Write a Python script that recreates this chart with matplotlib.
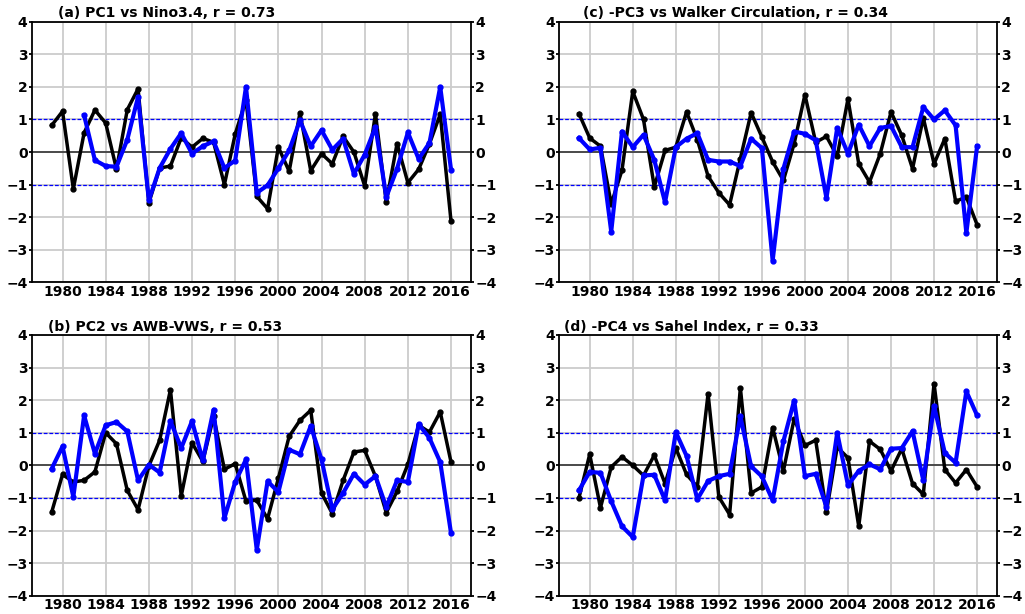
import numpy as np
import matplotlib.pyplot as plt

years = np.arange(1979, 2017)

# (a) PC1 vs Nino3.4
pc1 = [0.82, 1.25, -1.13, 0.59, 1.29, 0.89, -0.53, 1.3, 1.94, -1.56,
       -0.49, -0.43, 0.44, 0.15, 0.42, 0.3, -1.0, 0.55, 1.6, -1.36,
       -1.74, 0.15, -0.59, 1.2, -0.57, -0.05, -0.36, 0.48, 0.0, -1.04,
       1.18, -1.54, 0.26, -0.94, -0.53, 0.25, 1.16, -2.12]
nino = [np.nan, np.nan, np.nan, 1.13, -0.25, -0.43, -0.45, 0.38, 1.69, -1.48,
        -0.49, 0.1, 0.58, -0.05, 0.18, 0.33, -0.49, -0.26, 2.0, -1.25,
        -1.02, -0.5, 0.05, 0.97, 0.18, 0.67, 0.07, 0.41, -0.67, -0.08,
        0.77, -1.38, -0.51, 0.6, -0.21, 0.28, 2.0, -0.54]

# (b) PC2 vs AWB-VWS
pc2 = [-1.43, -0.28, -0.51, -0.46, -0.2, 1.0, 0.66, -0.77, -1.36, -0.02,
       0.77, 2.32, -0.94, 0.69, 0.12, 1.5, -0.12, 0.05, -1.1, -1.07,
       -1.64, -0.4, 0.89, 1.38, 1.69, -0.85, -1.48, -0.46, 0.41, 0.46,
       -0.34, -1.45, -0.8, 0.03, 1.23, 1.02, 1.64, 0.1]
awb = [-0.1, 0.58, -0.97, 1.53, 0.36, 1.23, 1.33, 1.04, -0.46, 0.02,
       -0.22, 1.36, 0.53, 1.36, 0.15, 1.71, -1.62, -0.51, 0.18, -2.59,
       -0.49, -0.82, 0.48, 0.34, 1.21, 0.18, -1.35, -0.85, -0.26, -0.59,
       -0.33, -1.28, -0.46, -0.51, 1.26, 0.84, 0.1, -2.08]

# (c) -PC3 vs Walker Circulation
pc3 = [1.18, 0.43, 0.18, -1.59, -0.56, 1.86, 1.0, -1.07, 0.05, 0.15,
       1.23, 0.38, -0.74, -1.25, -1.62, -0.2, 1.21, 0.46, -0.3, -0.87,
       0.26, 1.76, 0.3, 0.48, -0.13, 1.63, -0.36, -0.92, -0.05, 1.23,
       0.51, -0.51, 1.05, -0.36, 0.41, -1.51, -1.38, -2.23]
walker = [0.43, 0.08, 0.13, -2.44, 0.63, 0.15, 0.53, -0.24, -1.54, 0.15,
          0.41, 0.58, -0.24, -0.29, -0.29, -0.43, 0.41, 0.12, -3.33, -0.51,
          0.63, 0.56, 0.36, -1.41, 0.74, -0.05, 0.84, 0.18, 0.74, 0.8,
          0.15, 0.15, 1.38, 1.0, 1.28, 0.82, -2.48, 0.18]

# (d) -PC4 vs Sahel Index
pc4 = [-1.0, 0.34, -1.3, -0.05, 0.26, 0.0, -0.31, 0.31, -0.56, 0.53,
       -0.28, -0.66, 2.2, -0.97, -1.51, 2.38, -0.85, -0.66, 1.16, -0.17,
       1.43, 0.61, 0.77, -1.43, 0.56, 0.23, -1.87, 0.74, 0.49, -0.17,
       0.51, -0.56, -0.89, 2.51, -0.13, -0.54, -0.13, -0.66]
sahel = [-0.77, -0.2, -0.23, -1.1, -1.87, -2.2, -0.31, -0.29, -1.07, 1.02,
         0.29, -1.04, -0.48, -0.33, -0.26, 1.5, -0.03, -0.34, -1.07, 0.74,
         1.99, -0.33, -0.26, -1.28, 1.0, -0.61, -0.17, 0.03, -0.12, 0.51,
         0.53, 1.05, -0.46, 1.82, 0.38, 0.08, 2.27, 1.53]

titles = ['(a) PC1 vs Nino3.4, r = 0.73', '(b) PC2 vs AWB-VWS, r = 0.53',
          '(c) -PC3 vs Walker Circulation, r = 0.34', '(d) -PC4 vs Sahel Index, r = 0.33']
title_x = [0.059, 0.037, 0.055, 0.011]

fig = plt.figure(figsize=(10.25, 6.14), dpi=100)
boxes = [[0.031, 0.540, 0.4285, 0.4247], [0.031, 0.0298, 0.4285, 0.4246],
         [0.5454, 0.540, 0.4273, 0.4247], [0.5454, 0.0298, 0.4273, 0.4246]]
series = [(pc1, nino), (pc2, awb), (pc3, walker), (pc4, sahel)]

for box, (pc, idx), title, tx in zip(boxes, series, titles, title_x):
    ax = fig.add_axes(box)
    ax.set_axisbelow(True)
    ax.grid(color='#cccccc', lw=1.3)
    ax.axhline(0, color='#404040', lw=1.3, zorder=1.5)
    ax.axhline(1, color='blue', lw=0.9, ls=(0, (3, 1.5)), zorder=1.6)
    ax.axhline(-1, color='blue', lw=0.9, ls=(0, (3, 1.5)), zorder=1.6)
    ax.plot(years, pc, color='black', lw=2.5, marker='o', ms=3.5, zorder=3)
    ax.plot(years, idx, color='blue', lw=3, marker='o', ms=3.5, zorder=4)
    ax.set_ylim(-4, 4)
    ax.set_yticks(range(-4, 5))
    ax.set_xticks(range(1980, 2017, 4))
    ax.tick_params(axis='y', labelsize=10, width=1.3, length=2, pad=1,
                   right=True, labelright=True)
    ax.tick_params(axis='x', labelsize=10, length=0, pad=2)
    for lab in ax.get_xticklabels() + ax.get_yticklabels():
        lab.set_fontweight('bold')
    for t in ax.yaxis.get_ticklabels(minor=False):
        t.set_fontweight('bold')
    for t in ax.yaxis.get_majorticklabels():
        t.set_fontweight('bold')
    for s in ax.spines.values():
        s.set_linewidth(1.3)
    ax.text(tx, 1.005, title, transform=ax.transAxes, ha='left', va='bottom',
            fontsize=10, fontweight='bold')
    # right-side labels bold too
    for t in ax.yaxis.get_major_ticks():
        t.label2.set_fontweight('bold')

fig.savefig('out.png', dpi=100)
